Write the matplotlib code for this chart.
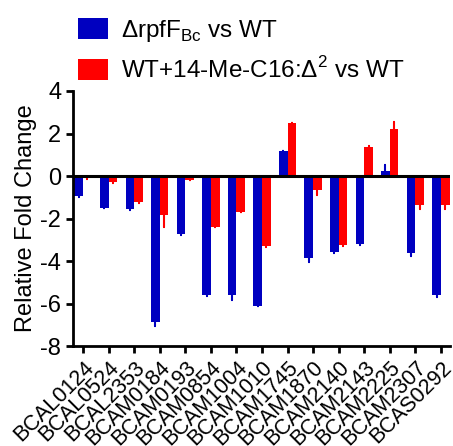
import numpy as np
import matplotlib as mpl
import matplotlib.pyplot as plt

mpl.rcParams['font.family'] = ['Liberation Sans', 'DejaVu Sans']
mpl.rcParams['mathtext.fontset'] = 'custom'
mpl.rcParams['mathtext.rm'] = 'Liberation Sans'
mpl.rcParams['axes.unicode_minus'] = False

genes = ['BCAL0124', 'BCAL0524', 'BCAL2353', 'BCAM0184', 'BCAM0193', 'BCAM0854',
         'BCAM1004', 'BCAM1010', 'BCAM1745', 'BCAM1870', 'BCAM2140', 'BCAM2143',
         'BCAM2225', 'BCAM2307', 'BCAS0292']
rpf = [-0.96, -1.5, -1.57, -6.87, -2.71, -5.61, -5.61, -6.1, 1.16, -3.84, -3.57, -3.18, 0.22, -3.62, -5.58]
rpf_err = [0.04, 0.02, 0.05, 0.19, 0.07, 0.02, 0.21, 0.02, 0.04, 0.21, 0.05, 0.08, 0.28, 0.14, 0.11]
me = [-0.1, -0.3, -1.22, -1.85, -0.17, -2.4, -1.69, -3.31, 2.49, -0.67, -3.23, 1.37, 2.23, -1.35, -1.35]
me_err = [0.02, 0.02, 0.06, 0.55, 0.03, 0.02, 0.02, 0.02, 0.02, 0.24, 0.04, 0.03, 0.3, 0.19, 0.21]

blue = '#0000c0'
red = '#ff0000'

def one_sided(vals, errs):
  vals = np.array(vals)
  errs = np.array(errs)
  lo = np.where(vals < 0, errs, 0)
  hi = np.where(vals >= 0, errs, 0)
  return [lo, hi]

fig = plt.figure(figsize=(4.53, 4.46), dpi=100)
ax = fig.add_axes([0.161, 0.224, 0.832, 0.572])

x = np.arange(len(genes))
w = 0.34
b1 = ax.bar(x - w/2, rpf, w, color=blue, yerr=one_sided(rpf, rpf_err),
            error_kw=dict(ecolor=blue, elinewidth=1.5, capsize=1, capthick=1.5))
b2 = ax.bar(x + w/2, me, w, color=red, yerr=one_sided(me, me_err),
            error_kw=dict(ecolor=red, elinewidth=1.5, capsize=1, capthick=1.5))

ax.axhline(0, color='black', lw=2.2, zorder=5)
ax.set_xlim(-0.4, 14.35)
ax.set_ylim(-8, 4)
ax.set_yticks([-8, -6, -4, -2, 0, 2, 4])
ax.set_xticks(x)
ax.set_xticklabels(genes, rotation=45, ha='right', rotation_mode='anchor', fontsize=15.5)
ax.tick_params(axis='y', labelsize=17, width=2, length=5)
ax.tick_params(axis='x', width=2, length=5, pad=3)
for s in ['top', 'right']:
  ax.spines[s].set_visible(False)
for s in ['left', 'bottom']:
  ax.spines[s].set_linewidth(2)
ax.set_ylabel('Relative Fold Change', fontsize=17, labelpad=2)

fig.legend([b1, b2],
           [r'ΔrpfF$_\mathregular{Bc}$ vs WT', r'WT+14-Me-C16:Δ$^\mathregular{2}$ vs WT'],
           loc='upper left', bbox_to_anchor=(0.14, 0.993), frameon=False, fontsize=17.5,
           handlelength=1.25, handleheight=0.95, labelspacing=0.55, handletextpad=0.5,
           borderaxespad=0.2)

fig.savefig('out.png', dpi=100)
